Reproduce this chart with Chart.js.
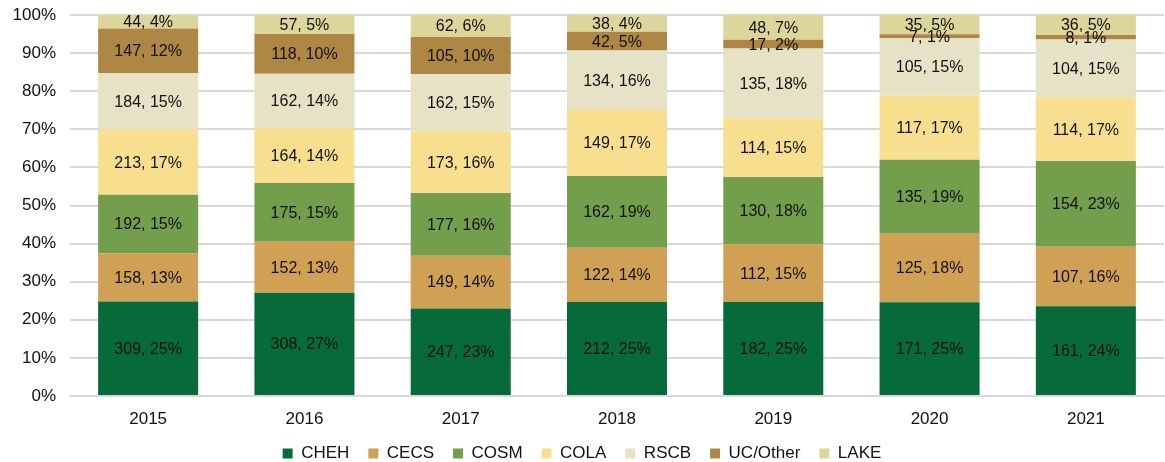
<!DOCTYPE html>
<html>
<head>
<meta charset="utf-8">
<script src="https://cdn.jsdelivr.net/npm/chart.js@4"></script>
<style>
  html, body { margin: 0; padding: 0; background: #fff; }
  #wrap { width: 1165px; height: 462px; }
</style>
</head>
<body>
<div id="wrap"><canvas id="myChart"></canvas></div>
<script>
const years = ['2015', '2016', '2017', '2018', '2019', '2020', '2021'];
const cheh = [309, 308, 247, 212, 182, 171, 161];
const cecs = [158, 152, 149, 122, 112, 125, 107];
const cosm = [192, 175, 177, 162, 130, 135, 154];
const cola = [213, 164, 173, 149, 114, 117, 114];
const rscb = [184, 162, 162, 134, 135, 105, 104];
const ucOther = [147, 118, 105, 42, 17, 7, 8];
const lake = [44, 57, 62, 38, 48, 35, 36];

const series = [
  { label: 'CHEH', values: cheh, color: '#066b39' },
  { label: 'CECS', values: cecs, color: '#d0a055' },
  { label: 'COSM', values: cosm, color: '#739e4b' },
  { label: 'COLA', values: cola, color: '#f8df8f' },
  { label: 'RSCB', values: rscb, color: '#e6e2c5' },
  { label: 'UC/Other', values: ucOther, color: '#ae8745' },
  { label: 'LAKE', values: lake, color: '#ddd69a' }
];

const FONT = '"Liberation Sans", Arial, sans-serif';

// totals per year
const totals = years.map((y, i) => series.reduce((s, d) => s + d.values[i], 0));

const datasets = series.map(s => ({
  label: s.label,
  raw: s.values,
  data: s.values.map((v, i) => v / totals[i] * 100),
  backgroundColor: s.color,
  borderWidth: 0,
  categoryPercentage: 1,
  barPercentage: 0.64
}));

// value, percent labels in the middle of each segment
const segLabels = {
  id: 'segLabels',
  afterDatasetsDraw(chart) {
    const ctx = chart.ctx;
    ctx.save();
    ctx.font = '16px ' + FONT;
    ctx.fillStyle = '#111111';
    ctx.textAlign = 'center';
    ctx.textBaseline = 'middle';
    chart.data.datasets.forEach((ds, di) => {
      chart.getDatasetMeta(di).data.forEach((bar, i) => {
        const v = ds.raw[i];
        const pct = Math.round(v / totals[i] * 100);
        const yMid = (bar.y + bar.base) / 2;
        ctx.fillText(v + ', ' + pct + '%', bar.x, yMid + 1);
      });
    });
    ctx.restore();
  }
};

// keep the legend row short even with wide item spacing
const legendHeight = {
  id: 'legendHeight',
  beforeLayout(chart) {
    const lg = chart.legend;
    if (lg && !lg._fixed) {
      const fit = lg.fit.bind(lg);
      lg.fit = function () { fit(); this.height = 36; };
      lg._fixed = true;
    }
  }
};

const ctx1 = document.getElementById('myChart').getContext('2d');
const graph = new Chart(ctx1, {
  type: 'bar',
  data: { labels: years, datasets: datasets },
  options: {
    responsive: true,
    maintainAspectRatio: false,
    animation: false,
    layout: { padding: { top: 15, right: 1, left: 0, bottom: 0 } },
    plugins: {
      legend: {
        position: 'bottom',
        labels: {
          boxWidth: 10,
          boxHeight: 10,
          padding: 19,
          color: '#111111',
          font: { size: 17, family: FONT }
        }
      },
      tooltip: { enabled: false }
    },
    scales: {
      x: {
        stacked: true,
        afterFit: s => { s.height = 30; },
        grid: { display: false },
        border: { color: '#d9d9d9', width: 2 },
        ticks: {
          color: '#111111',
          padding: 5,
          font: { size: 17, family: FONT }
        }
      },
      y: {
        stacked: true,
        min: 0,
        max: 100,
        afterFit: s => { s.width = 70; s.paddingTop = 0; s.paddingBottom = 0; },
        grid: { color: '#d9d9d9', lineWidth: 2, drawTicks: false },
        border: { display: false },
        ticks: {
          stepSize: 10,
          padding: 14,
          color: '#111111',
          font: { size: 17, family: FONT },
          callback: v => v + '%'
        }
      }
    }
  },
  plugins: [segLabels, legendHeight]
});
</script>
</body>
</html>
